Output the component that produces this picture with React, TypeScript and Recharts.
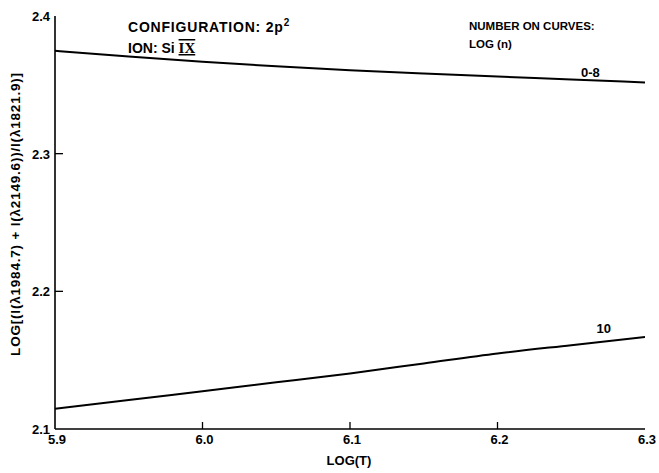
import React from "react";
import {
  LineChart,
  Line,
  XAxis,
  YAxis,
  ReferenceDot,
  Customized,
} from "recharts";

// Data
const logT = [5.9, 5.95, 6.0, 6.05, 6.1, 6.15, 6.2, 6.25, 6.3];
const curve0to8 = [2.3747, 2.3705, 2.3668, 2.3635, 2.3606, 2.3582, 2.3560, 2.3539, 2.3517];
const curve10 = [2.1147, 2.121, 2.1275, 2.1339, 2.1404, 2.1476, 2.1548, 2.1609, 2.1669];
const xTicks = [5.9, 6.0, 6.1, 6.2, 6.3];
const yTicks = [2.1, 2.2, 2.3, 2.4];
const topTicks = [6.1, 6.2];
const curveLabels = [
  { x: 6.263, y: 2.359, text: "0-8" },
  { x: 6.272, y: 2.173, text: "10" },
];

const data = logT.map((t, i) => ({ t, a: curve0to8[i], b: curve10[i] }));

const FONT = "'Liberation Sans', Arial, Helvetica, sans-serif";

const XTick = (props: any) => {
  const { x, y, payload } = props;
  const v = payload.value;
  const inner = v > 5.95 && v < 6.25;
  return (
    <g>
      {inner && <line x1={x} y1={y} x2={x} y2={y - 7} stroke="#000" strokeWidth={1.3} />}
      <text x={x + 2} y={y + 15} textAnchor="middle" fontFamily={FONT} fontWeight="bold" fontSize={13} fill="#000">
        {v.toFixed(1)}
      </text>
    </g>
  );
};

const YTick = (props: any) => {
  const { x, y, payload } = props;
  const v = payload.value;
  const inner = v > 2.15 && v < 2.35;
  return (
    <g>
      {inner && <line x1={x} y1={y} x2={x + 8} y2={y} stroke="#000" strokeWidth={1.3} />}
      <text x={x - 5} y={y + 5} textAnchor="end" fontFamily={FONT} fontWeight="bold" fontSize={13} fill="#000">
        {v.toFixed(1)}
      </text>
    </g>
  );
};

const TopTick = (props: any) => {
  const { x, y, payload } = props;
  if (!topTicks.some((t) => Math.abs(t - payload.value) < 1e-6)) return <g />;
  return <line x1={x} y1={y} x2={x} y2={y + 6} stroke="#000" strokeWidth={1.3} />;
};

const Annotations = () => (
  <g fontFamily={FONT} fontWeight="bold" fill="#000">
    <text x={128} y={32} fontSize={14} letterSpacing={0.8}>
      CONFIGURATION: 2p
      <tspan dy={-6} fontSize={10}>2</tspan>
    </text>
    <text x={128} y={53} fontSize={14}>
      ION: Si{" "}
      <tspan fontFamily="'Liberation Serif', 'Times New Roman', serif" fontSize={15} textDecoration="overline underline">
        IX
      </tspan>
    </text>
    <text x={469} y={30} fontSize={11.5}>NUMBER ON CURVES:</text>
    <text x={469} y={48} fontSize={11.5}>LOG (n)</text>
    <text
      x={16}
      y={214}
      fontSize={13.5}
      letterSpacing={0.8}
      textAnchor="middle"
      transform="rotate(-90 16 214)"
      dominantBaseline="middle"
    >
      LOG[(I(λ1984.7) + I(λ2149.6))/I(λ1821.9)]
    </text>
    <text x={349} y={465} fontSize={13} textAnchor="middle">LOG(T)</text>
  </g>
);

export default function App() {
  return (
    <div style={{ position: "absolute", left: 0, top: 0, background: "#fff" }}>
      <LineChart
        width={659}
        height={473}
        data={data}
        margin={{ top: 16, right: 14, bottom: 9, left: 10 }}
      >
        <XAxis
          xAxisId="bottom"
          dataKey="t"
          type="number"
          domain={[5.9, 6.3]}
          ticks={xTicks}
          allowDataOverflow
          axisLine={{ stroke: "#000", strokeWidth: 1.6 }}
          tickLine={false}
          tickSize={0}
          tickMargin={0}
          tick={<XTick />}
          height={35}
          interval={0}
        />
        <XAxis
          xAxisId="top"
          orientation="top"
          dataKey="t"
          type="number"
          domain={[5.9, 6.3]}
          ticks={xTicks}
          allowDataOverflow
          axisLine={{ stroke: "#000", strokeWidth: 1.4 }}
          tickLine={false}
          tickSize={0}
          tickMargin={0}
          tick={<TopTick />}
          height={0}
          interval={0}
        />
        <YAxis
          yAxisId="left"
          type="number"
          domain={[2.1, 2.4]}
          ticks={yTicks}
          allowDataOverflow
          axisLine={{ stroke: "#000", strokeWidth: 1.6 }}
          tickLine={false}
          tickSize={0}
          tickMargin={0}
          tick={<YTick />}
          width={45}
          interval={0}
        />
        <YAxis
          yAxisId="right"
          orientation="right"
          type="number"
          domain={[2.1, 2.4]}
          ticks={yTicks}
          axisLine={{ stroke: "#000", strokeWidth: 1.6 }}
          tickLine={false}
          tick={false}
          width={0}
        />
        <Line
          xAxisId="bottom"
          yAxisId="left"
          type="monotone"
          dataKey="a"
          stroke="#000"
          strokeWidth={2}
          dot={false}
          isAnimationActive={false}
        />
        <Line
          xAxisId="bottom"
          yAxisId="left"
          type="monotone"
          dataKey="b"
          stroke="#000"
          strokeWidth={2}
          dot={false}
          isAnimationActive={false}
        />
        {curveLabels.map((c) => (
          <ReferenceDot
            key={c.text}
            xAxisId="bottom"
            yAxisId="left"
            x={c.x}
            y={c.y}
            r={0}
            stroke="none"
            fill="none"
            label={{
              value: c.text,
              position: "center",
              fill: "#000",
              fontFamily: FONT,
              fontWeight: "bold",
              fontSize: 13,
            }}
          />
        ))}
        <Customized component={Annotations} />
      </LineChart>
    </div>
  );
}
